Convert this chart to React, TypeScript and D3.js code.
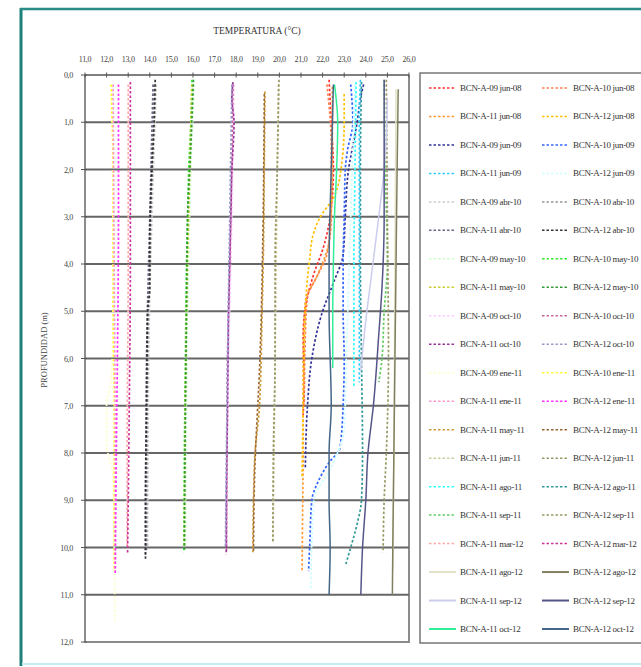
import React, { useEffect, useRef } from "react";
import * as d3 from "d3";

// profiles are [temperature (°C), depth (m)] pairs
const stations = ["BCN-A-09", "BCN-A-10", "BCN-A-11", "BCN-A-12"];

const jun08 = [
  [[22.3, 0.1], [22.4, 1], [22.5, 2], [22.35, 3], [22.0, 3.7], [21.6, 4.2], [21.25, 4.8], [21.1, 5.5], [21.15, 6.5], [21.1, 7.2]],
  [[22.2, 0.2], [22.4, 1.5], [22.4, 3], [22.2, 3.8], [21.7, 4.3], [21.3, 4.7], [21.2, 5.5], [21.15, 7]],
  [[22.45, 0.25], [22.45, 2], [22.3, 3.5], [21.8, 4.2], [21.2, 4.8], [21.1, 6], [21.1, 8], [21.08, 9], [21.05, 10.5]],
  [[23.0, 0.4], [23.0, 1], [22.85, 2], [22.5, 2.6], [21.9, 3], [21.55, 3.4], [21.4, 3.9], [21.3, 4.3], [21.2, 5], [21.1, 7], [21.05, 8.5]],
];
const jun09 = [
  [[23.9, 0.2], [23.75, 0.5], [23.6, 1], [23.4, 1.5], [23.2, 2], [23.05, 3], [22.95, 3.8], [22.5, 4.4], [22.0, 5], [21.5, 6], [21.3, 7], [21.2, 8.3]],
  [[23.3, 0.2], [23.4, 1], [23.15, 1.6], [23.05, 2], [23.0, 3], [22.95, 4], [22.95, 5], [23.0, 6], [22.95, 7], [22.8, 7.9], [22.3, 8.2], [21.8, 8.6], [21.5, 9], [21.4, 10], [21.35, 10.5]],
  [[23.75, 0.1], [23.7, 1], [23.7, 3], [23.7, 5], [23.7, 6.5]],
  [[23.5, 0.2], [23.3, 3], [23.1, 6], [23.0, 7.5], [22.4, 8.3], [21.6, 9], [21.45, 10.9]],
];
const abr10 = [
  [[14.3, 0.2], [14.1, 3], [13.95, 6], [13.9, 10]],
  [[14.2, 0.2], [14.05, 3], [13.9, 6], [13.85, 10.1]],
  [[14.15, 0.2], [14.0, 3], [13.85, 6], [13.8, 10.2]],
  [[14.25, 0.1], [14.2, 1], [14.1, 2], [14.0, 3.5], [14.0, 4.5], [13.9, 5], [13.85, 7], [13.8, 9], [13.8, 10.24]],
];
const may10 = [
  [[16.05, 0.2], [15.9, 2], [15.75, 5], [15.65, 10]],
  [[15.95, 0.1], [15.9, 1], [15.8, 2], [15.75, 3], [15.7, 4], [15.65, 6], [15.6, 8], [15.58, 10.1]],
  [[15.95, 0.2], [15.85, 2], [15.7, 5], [15.6, 10]],
  [[16.02, 0.1], [15.9, 1.5], [15.75, 3], [15.7, 5], [15.65, 7], [15.6, 10.05]],
];
const oct10 = [
  [[17.9, 0.2], [17.8, 3], [17.65, 6], [17.55, 10]],
  [[17.85, 0.2], [17.75, 3], [17.6, 6], [17.55, 10.1]],
  [[17.85, 0.15], [17.8, 0.5], [17.9, 1], [17.8, 2], [17.75, 3], [17.7, 4], [17.65, 5], [17.6, 7], [17.55, 9], [17.54, 10.15]],
  [[17.8, 0.2], [17.7, 3], [17.6, 6], [17.5, 10]],
];
const ene11 = [
  [[12.25, 0.2], [12.3, 5], [12.2, 6.5], [12.0, 7], [12.0, 7.8], [12.3, 8.5], [12.38, 11.55]],
  [[12.2, 0.2], [12.3, 2], [12.3, 5], [12.35, 7], [12.35, 10.5]],
  [[12.3, 0.2], [12.35, 4], [12.4, 8], [12.4, 10.5]],
  [[12.55, 0.2], [12.55, 3], [12.5, 6], [12.45, 8], [12.4, 10.56]],
];
const may11 = [
  [[19.33, 0.35], [19.3, 2], [19.25, 4], [19.2, 5], [19.08, 7], [18.87, 8], [18.8, 9], [18.77, 10.1]],
  [[19.3, 0.4], [19.25, 3], [19.1, 6], [18.85, 8.5], [18.8, 10.1]],
];
const jun11 = [
  [[19.95, 0.2], [19.85, 4], [19.75, 8], [19.7, 9.9]],
  [[19.98, 0.1], [19.9, 2], [19.8, 4], [19.8, 6], [19.72, 8], [19.7, 9.9]],
];
const ago11 = [
  [[23.55, 0.15], [23.5, 2], [23.45, 4], [23.45, 6.6]],
  [[23.8, 0.15], [23.75, 2], [23.75, 4], [23.8, 6], [23.85, 8], [23.8, 9], [23.6, 9.5], [23.3, 10], [23.08, 10.35]],
];
const sep11 = [
  [[24.85, 0.1], [24.9, 2], [25.0, 4], [24.85, 5], [24.75, 6], [24.6, 6.5]],
  [[24.95, 0.1], [25.0, 3], [25.05, 6], [24.95, 8], [24.85, 9], [24.8, 10.1]],
];
const mar12 = [
  [[13.0, 0.2], [13.0, 4], [12.95, 8], [12.95, 10]],
  [[13.1, 0.15], [13.1, 4], [13.05, 7], [12.97, 10.13]],
];
const ago12 = [
  [[25.4, 0.3], [25.35, 4], [25.3, 8], [25.25, 10.5]],
  [[25.5, 0.3], [25.45, 2], [25.4, 4], [25.35, 6], [25.3, 8], [25.25, 10], [25.23, 11]],
];
const sep12 = [
  [[25.0, 0.5], [24.95, 1.3], [24.85, 2], [24.6, 3], [24.3, 4.1], [24.0, 5.2], [23.77, 6.25]],
  [[24.85, 0.1], [24.85, 3], [24.75, 4.5], [24.6, 5.5], [24.35, 7], [24.1, 8], [24.0, 9], [23.85, 10], [23.77, 11]],
];
const oct12 = [
  [[22.55, 0.2], [22.7, 1], [22.65, 2], [22.55, 3], [22.5, 4], [22.47, 5], [22.47, 6.2]],
  [[22.5, 0.2], [22.4, 2], [22.3, 4], [22.3, 5], [22.4, 7], [22.3, 8], [22.3, 9], [22.35, 10], [22.3, 11]],
];

// legend order of the campaigns
const campaigns = [
  { name: "jun-08", first: 0, profiles: jun08 },
  { name: "jun-09", first: 0, profiles: jun09 },
  { name: "abr-10", first: 0, profiles: abr10 },
  { name: "may-10", first: 0, profiles: may10 },
  { name: "oct-10", first: 0, profiles: oct10 },
  { name: "ene-11", first: 0, profiles: ene11 },
  { name: "may-11", first: 2, profiles: may11 },
  { name: "jun-11", first: 2, profiles: jun11 },
  { name: "ago-11", first: 2, profiles: ago11 },
  { name: "sep-11", first: 2, profiles: sep11 },
  { name: "mar-12", first: 2, profiles: mar12 },
  { name: "ago-12", first: 2, profiles: ago12 },
  { name: "sep-12", first: 2, profiles: sep12 },
  { name: "oct-12", first: 2, profiles: oct12 },
];

const colors = [
  "#ff3333", "#ff7f50", "#ff9933", "#ffc000",
  "#333399", "#3366ff", "#33ccff", "#ccffff",
  "#cccccc", "#999999", "#666688", "#333333",
  "#ccffcc", "#33ee33", "#cccc33", "#339933",
  "#ffccff", "#cc6699", "#993399", "#9999cc",
  "#ffffcc", "#ffff33", "#ff99cc", "#ff33ff",
  "#cc9933", "#996633", "#cccc99", "#999966",
  "#33ffff", "#339999", "#66cc66", "#999966",
  "#ffaaaa", "#cc3399", "#e2e2c6", "#808060",
  "#ccccee", "#555588", "#33ee99", "#446688",
];
const solidCampaigns = ["ago-12", "sep-12", "oct-12"];

const tempTicks = d3.range(11, 26.5, 1);
const depthTicks = d3.range(0, 12.5, 1);

const W = 641;
const H = 667;
const fmt = (v: number) => d3.format(".1f")(v).replace(".", ",");

const App = () => {
  const svgRef = useRef<SVGSVGElement>(null);

  useEffect(() => {
    const svg = d3.select(svgRef.current);
    svg.selectAll("*").remove();

    const series = campaigns.flatMap((c) =>
      c.profiles.map((p, i) => ({
        label: `${stations[c.first + i]} ${c.name}`,
        solid: solidCampaigns.includes(c.name),
        points: p,
      }))
    );
    series.forEach((s, i) => ((s as any).color = colors[i]));

    const x = d3.scaleLinear().domain([11, 26]).range([85, 409]);
    const y = d3.scaleLinear().domain([0, 12]).range([75, 642]);
    const font = "'Liberation Serif', 'Times New Roman', serif";

    // outer frame
    svg.append("line").attr("x1", 21).attr("x2", 21).attr("y1", 8).attr("y2", 666)
      .attr("stroke", "#1f807b").attr("stroke-width", 3);
    svg.append("line").attr("x1", 20).attr("x2", W).attr("y1", 9).attr("y2", 9)
      .attr("stroke", "#2a8c88").attr("stroke-width", 2.5);
    svg.append("line").attr("x1", 22).attr("x2", W).attr("y1", 664).attr("y2", 664)
      .attr("stroke", "#c4eef2").attr("stroke-width", 2);

    // title
    svg.append("text").attr("x", 257).attr("y", 34).attr("text-anchor", "middle")
      .attr("font-family", font).attr("font-size", 9.5).attr("fill", "#333")
      .text("TEMPERATURA (°C)");
    svg.append("text")
      .attr("transform", `translate(47,350) rotate(-90)`)
      .attr("text-anchor", "middle").attr("font-family", font)
      .attr("font-size", 8.5).attr("fill", "#444").text("PROFUNDIDAD (m)");

    // plot frame
    const [x0, x1] = x.range();
    const [y0, y1] = y.range();
    svg.append("path")
      .attr("d", `M${x0},${y0}V${y1}H${x1}V${y0}`)
      .attr("fill", "none").attr("stroke", "#8c8c8c").attr("stroke-width", 2);

    // depth gridlines
    svg.append("g").selectAll("line")
      .data(depthTicks.filter((d) => d > 0 && d < 12))
      .enter().append("line")
      .attr("x1", x0).attr("x2", x1)
      .attr("y1", (d) => y(d)).attr("y2", (d) => y(d))
      .attr("stroke", "#666").attr("stroke-width", 2);

    // top axis
    svg.append("line").attr("x1", x0).attr("x2", x1).attr("y1", y0).attr("y2", y0)
      .attr("stroke", "#555").attr("stroke-width", 1.5);
    const top = svg.append("g");
    top.selectAll("line").data(tempTicks).enter().append("line")
      .attr("x1", (d) => x(d)).attr("x2", (d) => x(d))
      .attr("y1", y0 - 2.5).attr("y2", y0 + 2.5)
      .attr("stroke", "#555").attr("stroke-width", 1);
    top.selectAll("text").data(tempTicks).enter().append("text")
      .attr("x", (d) => x(d)).attr("y", 62).attr("text-anchor", "middle")
      .attr("font-family", font).attr("font-size", 8).attr("letter-spacing", -0.3)
      .attr("fill", "#444").text((d) => fmt(d));

    // left axis
    const left = svg.append("g");
    left.selectAll("line").data(depthTicks).enter().append("line")
      .attr("x1", x0 - 4).attr("x2", x0 + 2)
      .attr("y1", (d) => y(d)).attr("y2", (d) => y(d))
      .attr("stroke", "#555").attr("stroke-width", 1);
    left.selectAll("text").data(depthTicks).enter().append("text")
      .attr("x", 73).attr("y", (d) => y(d) + 3).attr("text-anchor", "end")
      .attr("font-family", font).attr("font-size", 8).attr("letter-spacing", -0.3)
      .attr("fill", "#444").text((d) => fmt(d));

    // profiles
    const line = d3.line<number[]>()
      .x((d) => x(d[0]))
      .y((d) => y(d[1]))
      .curve(d3.curveMonotoneY);

    svg.append("g").selectAll("path")
      .data(series)
      .enter().append("path")
      .attr("d", (d) => line(d.points))
      .attr("fill", "none")
      .attr("stroke", (d: any) => d.color)
      .attr("stroke-width", (d) => (d.solid ? 1.5 : 1.7))
      .attr("stroke-dasharray", (d) => (d.solid ? null : "2.5,2"));

    // legend
    const lg = svg.append("g");
    lg.append("rect").attr("x", 420).attr("y", 73).attr("width", 300).attr("height", 570)
      .attr("fill", "#fff").attr("stroke", "#777").attr("stroke-width", 1.5);
    const row = d3.scaleLinear().domain([0, 19]).range([88, 629]);
    const items = lg.selectAll("g.item").data(series).enter().append("g")
      .attr("transform", (d, i) => `translate(${i % 2 === 0 ? 429 : 542},${row(Math.floor(i / 2))})`);
    items.append("line")
      .attr("x1", 0).attr("x2", 27).attr("y1", 0).attr("y2", 0)
      .attr("stroke", (d: any) => d.color)
      .attr("stroke-width", (d) => (d.solid ? 2 : 1.5))
      .attr("stroke-dasharray", (d) => (d.solid ? null : "2.5,2"));
    items.append("text")
      .attr("x", 31).attr("y", 3)
      .attr("font-family", font).attr("font-size", 9).attr("letter-spacing", -0.3)
      .attr("fill", "#333").text((d) => d.label);
  }, []);

  return (
    <svg
      ref={svgRef}
      width={W}
      height={H}
      style={{ position: "absolute", left: 0, top: 0, background: "#fff" }}
    ></svg>
  );
};

export default App;
